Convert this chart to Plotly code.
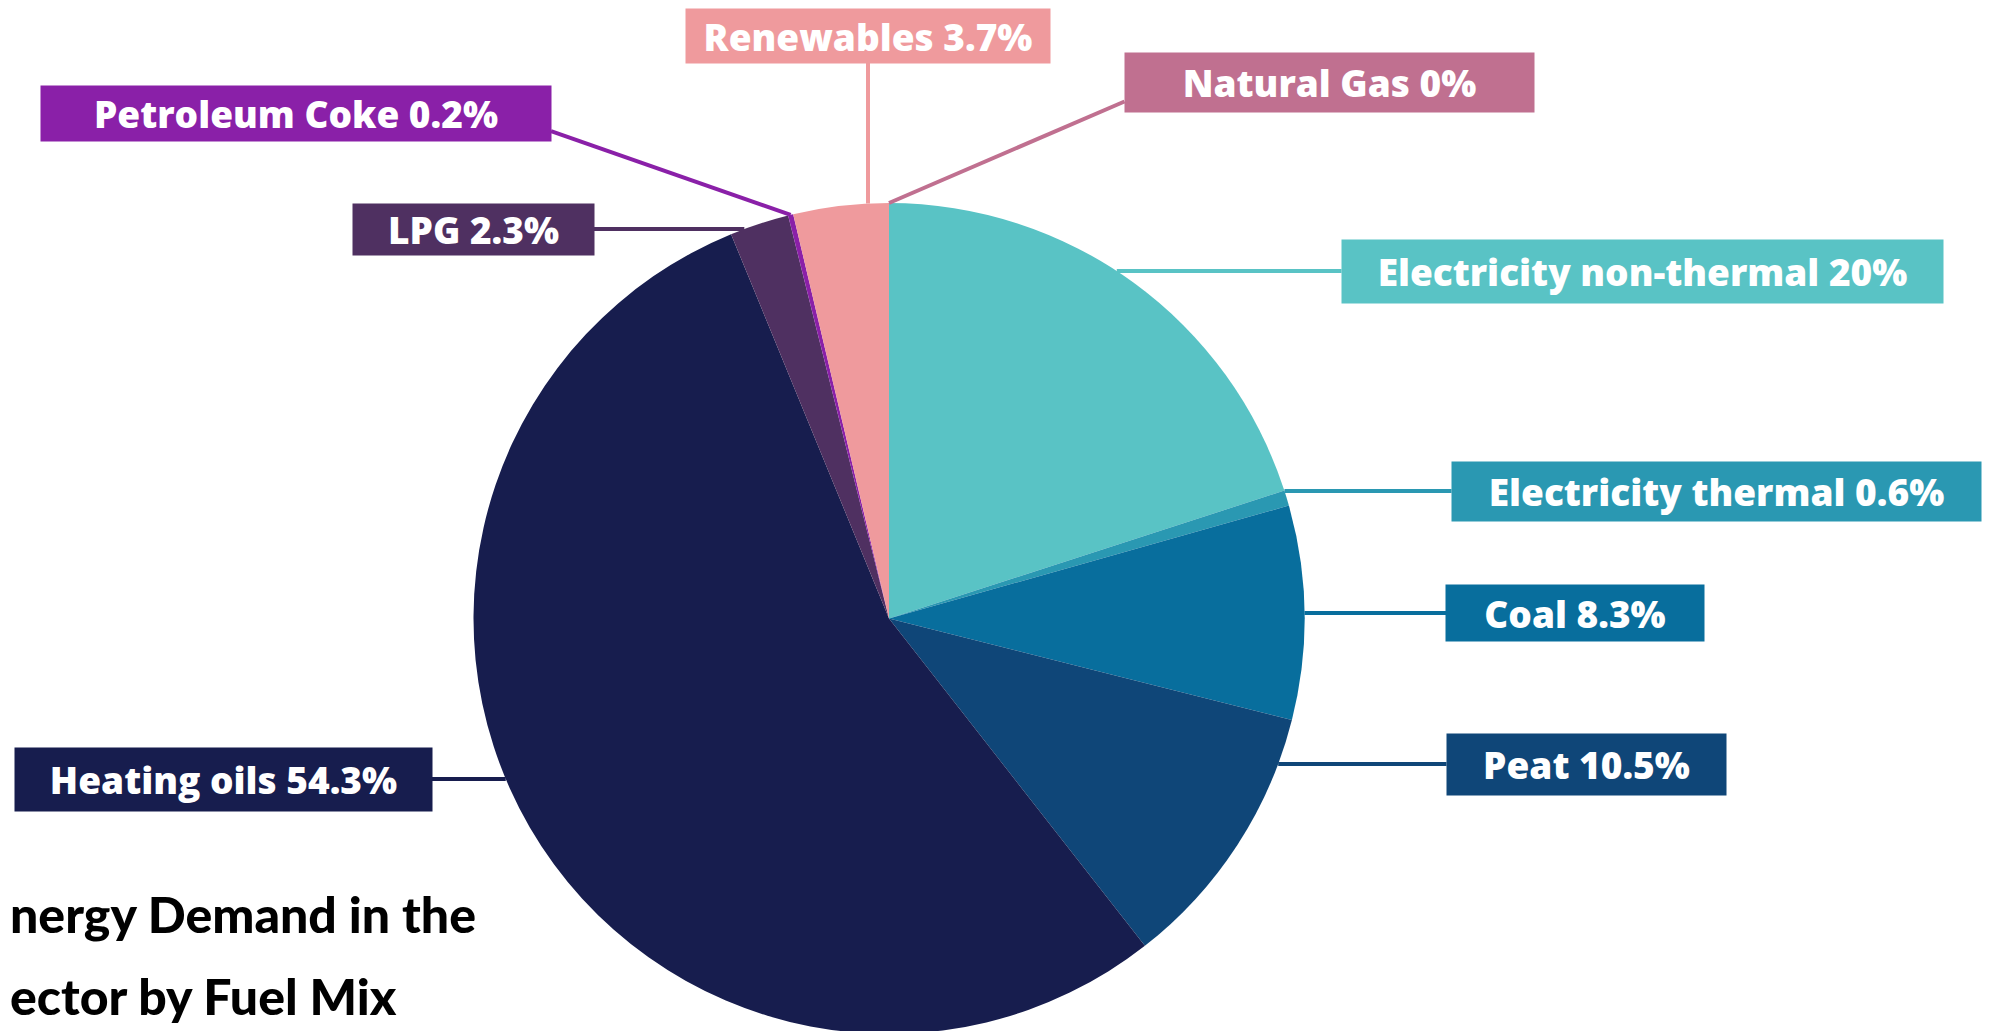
import math
import plotly.graph_objects as go

# ---- data ----
labels = ["Electricity non-thermal", "Electricity thermal", "Coal", "Peat",
          "Heating oils", "LPG", "Petroleum Coke", "Renewables", "Natural Gas"]
values = [20, 0.6, 8.3, 10.5, 54.3, 2.3, 0.2, 3.7, 0]
value_text = ["20%", "0.6%", "8.3%", "10.5%", "54.3%", "2.3%", "0.2%", "3.7%", "0%"]
colors = ["#59C3C5", "#2A98B2", "#086E9D", "#0F4678", "#171D4E",
          "#4F3061", "#8A20A8", "#EF9A9D", "#C07090"]
title_lines = ["nergy Demand in the", "ector by Fuel Mix"]

W, H = 2005, 1031
# pie geometry (pixels, y downward)
R = 415.5
bottom_gap = 5
cx = 881.0
cy = H - bottom_gap - R
dom_x = [(cx - R) / W, (cx + R) / W]
dom_y = [bottom_gap / H, (bottom_gap + 2 * R) / H]

# label box layout: center x, center y, width, height, leader mode
off = 9
boxes = {
    "Electricity non-thermal": (1643 - off, 272 - off, 601, 63, "right"),
    "Electricity thermal": (1717 - off, 492 - off, 529, 59, "right"),
    "Coal": (1576 - off, 614 - off, 258, 56, "right"),
    "Peat": (1587 - off, 765 - off, 279, 61, "right"),
    "Heating oils": (224 - off, 780 - off, 417, 63, "left"),
    "LPG": (474 - off, 230 - off, 241, 51, "left"),
    "Petroleum Coke": (297 - off, 114 - off, 510, 55, "mid"),
    "Renewables": (869 - off, 37 - off, 364, 54, "up"),
    "Natural Gas": (1330 - off, 83 - off, 409, 59, "mid"),
}

total = sum(values)
mid_angle = {}
acc = 0.0
for lab, v in zip(labels, values):
    a = v / total * 360
    mid_angle[lab] = acc + a / 2
    acc += a

fig = go.Figure()
fig.add_trace(go.Pie(
    labels=labels, values=values, sort=False, direction="clockwise", rotation=0,
    marker=dict(colors=colors, line=dict(width=0)),
    textinfo="none", hoverinfo="label+percent", showlegend=False,
    domain=dict(x=dom_x, y=dom_y),
))

shapes = []
annotations = []
for lab, col, vt in zip(labels, colors, value_text):
    bx, by, bw, bh, mode = boxes[lab]
    if mode == "right":
        x0 = bx - bw / 2
        y0 = by
        x1 = cx + math.sqrt(max(R**2 - (by - cy)**2, 0))
        y1 = by
    elif mode == "left":
        x0 = bx + bw / 2
        y0 = by
        x1 = cx - math.sqrt(max(R**2 - (by - cy)**2, 0))
        y1 = by
    elif mode == "up":
        x0 = bx
        y0 = by + bh / 2
        x1 = bx
        y1 = cy - math.sqrt(max(R**2 - (bx - cx)**2, 0))
    else:
        th = math.radians(mid_angle[lab])
        x1 = cx + R * math.sin(th)
        y1 = cy - R * math.cos(th)
        if x1 > bx:
            x0 = bx + bw / 2
        else:
            x0 = bx - bw / 2
        y0 = by + bh * 0.33
    shapes.append(dict(type="line", xref="x", yref="y", x0=x0, y0=y0, x1=x1, y1=y1,
                       line=dict(color=col, width=4), layer="above"))
    annotations.append(dict(
        x=bx, y=by, xref="x", yref="y", xanchor="center", yanchor="middle",
        text=f"{lab} {vt}", showarrow=False,
        width=bw, height=bh, borderpad=0, bgcolor=col, align="center", valign="middle",
        font=dict(family="Open Sans", size=37, color="white", weight=800),
    ))

for i, t in enumerate(title_lines):
    annotations.append(dict(
        x=0, y=1 - (906 + i * 82) / H, xref="paper", yref="paper",
        xanchor="left", yanchor="middle",
        text=t, showarrow=False,
        font=dict(family="Lato", size=50, color="#000000", weight=900),
    ))

fig.update_layout(
    width=W, height=H,
    margin=dict(l=0, r=0, t=0, b=0),
    paper_bgcolor="white", plot_bgcolor="rgba(0,0,0,0)",
    xaxis=dict(range=[0, W], visible=False, fixedrange=True),
    yaxis=dict(range=[H, 0], visible=False, fixedrange=True),
    shapes=shapes, annotations=annotations,
)

fig.write_html("out.html")
